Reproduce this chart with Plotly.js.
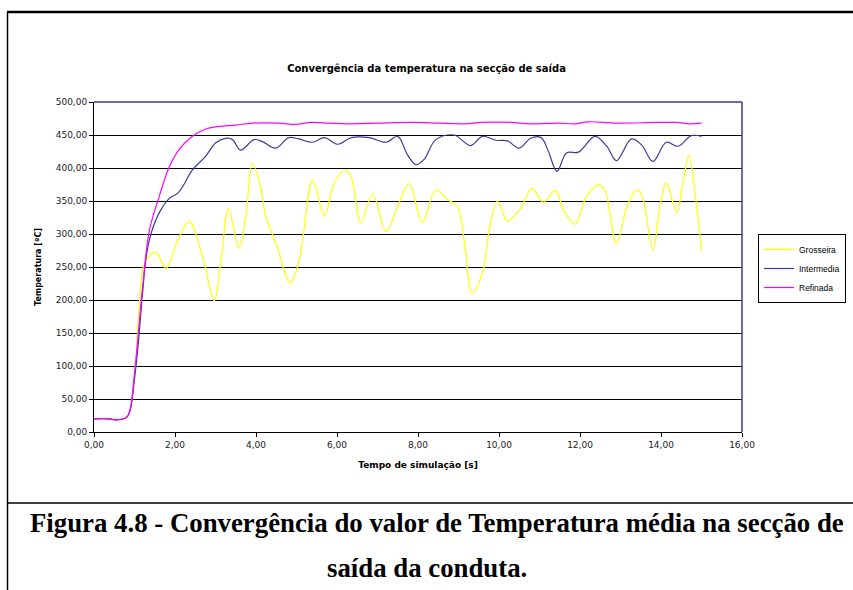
<!DOCTYPE html>
<html>
<head>
<meta charset="utf-8">
<script src="https://cdn.plot.ly/plotly-3.0.1.min.js"></script>
<style>
html,body{margin:0;padding:0;background:#fff;}
#chart{width:853px;height:590px;}
</style>
</head>
<body>
<div id="chart"></div>
<script>
// ---- Data ----
const seriesNames = ["Grosseira", "Intermedia", "Refinada"];

const tGrosseira = [0, 0.39, 0.51, 0.8, 0.89, 0.98, 1.04, 1.12, 1.2, 1.3, 1.52, 1.78, 2.07, 2.35, 2.68, 2.97, 3.13, 3.32, 3.58, 3.75, 3.91, 4.11, 4.24, 4.52, 4.84, 5.03, 5.15, 5.4, 5.69, 5.93, 6.22, 6.35, 6.59, 6.88, 7.21, 7.5, 7.78, 8.11, 8.44, 8.73, 8.97, 9.14, 9.34, 9.59, 9.76, 9.96, 10.21, 10.54, 10.81, 11.1, 11.39, 11.59, 11.88, 12.16, 12.45, 12.61, 12.9, 13.19, 13.43, 13.56, 13.8, 14.0, 14.13, 14.39, 14.54, 14.69, 14.83, 15.0];
const vGrosseira = [20, 20, 18.5, 22, 34, 70, 115, 195, 246, 262, 273, 248, 291, 319, 266, 199, 256, 338, 279, 327, 407, 372, 327, 281, 226, 251, 291, 382, 327, 377, 397, 387, 317, 361, 304, 342, 376, 318, 367, 352, 342, 291, 210, 241, 307, 350, 320, 339, 369, 348, 366, 337, 315, 357, 374, 367, 286, 347, 367, 352, 276, 352, 377, 333, 377, 419, 367, 275];

const tIntermedia = [0, 0.39, 0.51, 0.8, 0.89, 1.0, 1.08, 1.2, 1.29, 1.41, 1.61, 1.86, 2.07, 2.19, 2.43, 2.76, 3.0, 3.25, 3.42, 3.62, 3.95, 4.16, 4.48, 4.81, 5.06, 5.39, 5.69, 6.02, 6.35, 6.8, 7.21, 7.5, 7.74, 7.95, 8.15, 8.44, 8.89, 9.3, 9.59, 9.92, 10.21, 10.5, 10.78, 11.04, 11.22, 11.43, 11.67, 11.96, 12.37, 12.66, 12.9, 13.27, 13.52, 13.8, 14.13, 14.42, 14.75, 15.0];
const vIntermedia = [20, 20, 18.5, 22, 32, 80, 125, 211, 266, 301, 332, 354, 362, 372, 397, 418, 438, 445, 443, 427, 443, 440, 430, 446, 444, 439, 446, 436, 446, 446, 439, 448, 420, 405, 413, 443, 450, 434, 448, 442, 441, 430, 445, 446, 425, 395, 423, 424, 448, 433, 411, 444, 435, 410, 439, 433, 449, 448];

const tRefinada = [0, 0.39, 0.51, 0.8, 0.89, 1.0, 1.08, 1.2, 1.37, 1.61, 1.86, 2.1, 2.43, 2.76, 3.09, 3.5, 3.91, 4.57, 4.98, 5.36, 5.8, 6.26, 7.0, 7.9, 8.5, 9.14, 9.59, 10.29, 10.78, 11.5, 11.88, 12.2, 12.9, 13.89, 14.38, 14.7, 15.0];
const vRefinada = [20, 20, 18.5, 22, 34, 89, 140, 220, 306, 357, 402, 428, 448, 459, 463, 465, 468, 468, 466, 469, 468, 467, 468, 469, 468, 467, 469, 469, 467, 468, 467, 470, 468, 469, 469, 467, 468];

const xTickVals = [0, 2, 4, 6, 8, 10, 12, 14, 16];
const yTickVals = [0, 50, 100, 150, 200, 250, 300, 350, 400, 450, 500];

const chartTitle = "Convergência da temperatura na secção de saída";
const xTitle = "Tempo de simulação [s]";
const yTitle = "Temperatura [ºC]";
const captionLine1 = "Figura 4.8 - Convergência do valor de Temperatura média na secção de";
const captionLine2 = "saída da conduta.";

// ---- Styles ----
const colors = ["#ffff00", "#3c3c9c", "#ff00ff"];
const sansFamily = "DejaVu Sans, Liberation Sans, Arial";
const tickFont = {family: sansFamily, size: 9, color: "#222"};

const traces = [
  {x: tGrosseira, y: vGrosseira, name: seriesNames[0]},
  {x: tIntermedia, y: vIntermedia, name: seriesNames[1]},
  {x: tRefinada, y: vRefinada, name: seriesNames[2]}
].map((t, i) => Object.assign(t, {
  type: "scatter", mode: "lines",
  line: {color: colors[i], width: 1.2, shape: "spline", smoothing: 1}
}));

// Plot area: x 94..742 px, y 102..432 px
const L = 94, R = 742, T = 102, B = 432, W = 853, H = 590;
const px = X => (X - L) / (R - L);
const py = Y => (B - Y) / (B - T);

const layout = {
  width: W, height: H,
  margin: {l: L, r: W - R, t: T, b: H - B, pad: 0, autoexpand: false},
  paper_bgcolor: "#fff", plot_bgcolor: "#fff",
  separators: ",.",
  showlegend: true,
  title: {
    text: "<b>" + chartTitle + "</b>",
    font: {family: sansFamily, size: 10, color: "#000"},
    xref: "container", x: 0.5, xanchor: "center",
    yref: "container", y: 1 - 68 / H, yanchor: "middle"
  },
  xaxis: {
    range: [0, 16], tickvals: xTickVals, tickformat: ".2f",
    showgrid: false, zeroline: false,
    showline: true, linecolor: "#000", linewidth: 1,
    ticks: "outside", ticklen: 4, tickcolor: "#000",
    tickfont: tickFont,
    title: {text: "<b>" + xTitle + "</b>", font: {family: sansFamily, size: 9, color: "#000"}, standoff: 12},
    automargin: false
  },
  yaxis: {
    range: [0, 500], tickvals: yTickVals, tickformat: ".2f",
    showgrid: true, gridcolor: "#000", gridwidth: 1,
    zeroline: false,
    showline: true, linecolor: "#000", linewidth: 1,
    ticks: "outside", ticklen: 4, tickcolor: "#000",
    tickfont: tickFont,
    title: {text: "<b>" + yTitle + "</b>", font: {family: sansFamily, size: 8, color: "#000"}, standoff: 12},
    automargin: false
  },
  legend: {
    x: px(758), y: py(234), xanchor: "left", yanchor: "top",
    xref: "paper", yref: "paper",
    bordercolor: "#000", borderwidth: 1, bgcolor: "#fff",
    font: {family: "Liberation Sans, Arial", size: 8.5, color: "#000"},
    tracegroupgap: 0, itemwidth: 30
  },
  shapes: [
    // plot area top and right border (navy)
    {type: "line", xref: "paper", yref: "paper", x0: 0, x1: 1, y0: 1, y1: 1, line: {color: "#3c3c8c", width: 1.5}},
    {type: "line", xref: "paper", yref: "paper", x0: 1, x1: 1, y0: 0, y1: 1, line: {color: "#3c3c8c", width: 1.5}},
    // outer frame
    {type: "line", xref: "paper", yref: "paper", x0: px(7), x1: px(860), y0: py(12), y1: py(12), line: {color: "#000", width: 2.5}},
    {type: "line", xref: "paper", yref: "paper", x0: px(7.5), x1: px(7.5), y0: py(12), y1: py(600), line: {color: "#000", width: 1.5}},
    {type: "line", xref: "paper", yref: "paper", x0: px(7), x1: px(860), y0: py(503), y1: py(503), line: {color: "#000", width: 1.5}}
  ],
  annotations: [
    {text: "<b>" + captionLine1 + "</b>", xref: "paper", yref: "paper", x: px(437), y: py(523), xanchor: "center", yanchor: "middle", showarrow: false,
     font: {family: "Liberation Serif, Times New Roman, serif", size: 26.8, color: "#000"}},
    {text: "<b>" + captionLine2 + "</b>", xref: "paper", yref: "paper", x: px(427), y: py(568), xanchor: "center", yanchor: "middle", showarrow: false,
     font: {family: "Liberation Serif, Times New Roman, serif", size: 26.8, color: "#000"}}
  ]
};

Plotly.newPlot("chart", traces, layout, {displayModeBar: false, staticPlot: true});
</script>
</body>
</html>
